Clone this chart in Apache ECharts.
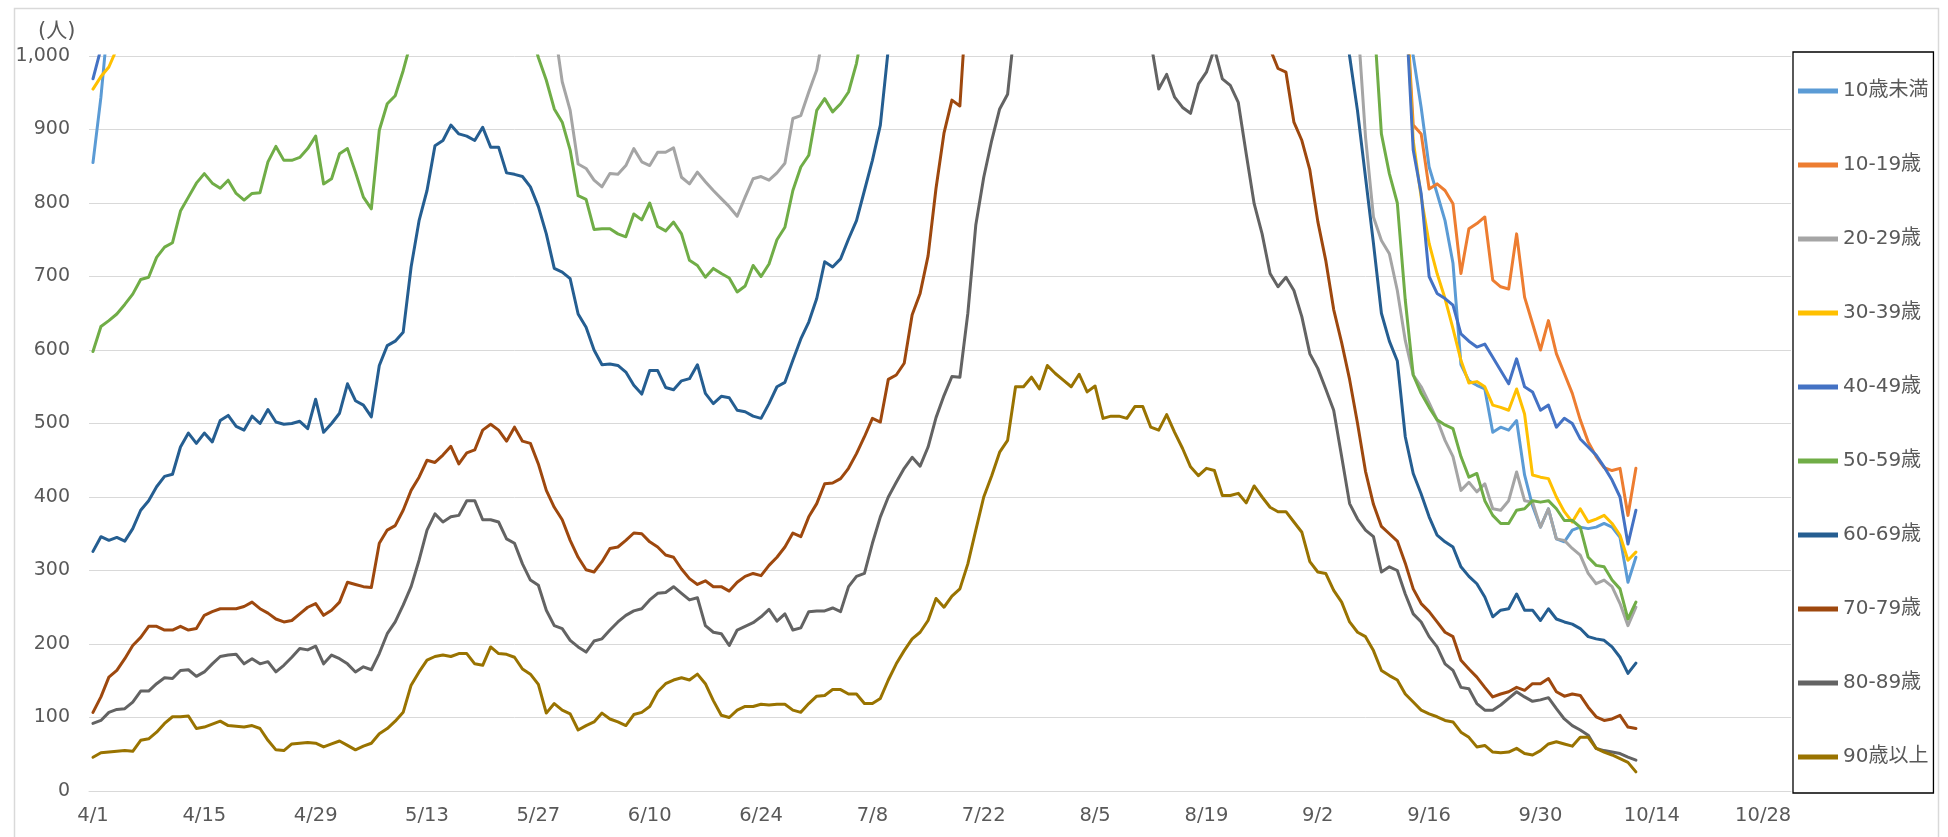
<!DOCTYPE html>
<html>
<head>
<meta charset="utf-8">
<title>年代別 陽性者数の推移</title>
<script src="https://cdn.jsdelivr.net/npm/echarts@6.0.0/dist/echarts.min.js"></script>
<style>
    html, body { margin: 0; padding: 0; background: #fff; }
    #main { width: 1948px; height: 837px; }
</style>
</head>
<body>
<div id="main"></div>
<script>
// 横軸：4/1～10/31（データは10/12まで）
var monthDays = [[4, 30], [5, 31], [6, 30], [7, 31], [8, 31], [9, 30], [10, 31]];
var dates = [];
monthDays.forEach(function (m) {
    for (var d = 1; d <= m[1]; d++) dates.push(m[0] + '/' + d);
});

// 1,000人を超えてグラフの外に出ている期間は読み取れないので null で埋める
function over(n) { return new Array(n).fill(null); }

var ageNames = ['10歳未満', '10-19歳', '20-29歳', '30-39歳', '40-49歳',
                '50-59歳', '60-69歳', '70-79歳', '80-89歳', '90歳以上'];

// 4/1 からの日別の値（人）
var under10 = [855, 944, 1060].concat(over(162), [
    1080, 1000, 930, 849, 813, 776, 718, 580, 558, 552,
    547, 488, 495, 491, 504, 430, 388, 359, 384, 343,
    339, 355, 359, 357, 359, 364, 359, 345, 284, 318]);

var age10s = over(165).concat([
    1100, 906, 894, 819, 826, 817, 799, 704, 765, 772,
    781, 695, 686, 683, 758, 672, 636, 600, 640, 595,
    568, 541, 505, 475, 455, 440, 436, 439, 375, 439]);

var age20s = over(58).concat([
    1040, 965, 926, 853, 847, 831, 822, 840, 839, 851,
    874, 856, 851, 869, 869, 875, 835, 826, 842, 829,
    817, 806, 795, 782, 808, 833, 836, 831, 841, 854,
    915, 919, 951, 981, 1040], over(66), [
    1050, 890, 781, 749, 731, 681, 613, 566, 550, 528,
    505, 477, 455, 409, 420, 407, 418, 384, 382, 395,
    434, 395, 393, 359, 384, 343, 341, 330, 321, 296,
    282, 287, 278, 255, 225, 250]);

var age30s = [955, 972, 985, 1010].concat(over(161), [
    1100, 885, 808, 745, 704, 670, 629, 586, 555, 557,
    550, 525, 522, 518, 547, 513, 430, 427, 425, 400,
    380, 366, 384, 366, 370, 375, 364, 348, 314, 325]);

var age40s = [969, 1010].concat(over(163), [
    1080, 872, 813, 700, 677, 670, 661, 622, 612, 604,
    608, 590, 572, 554, 588, 550, 543, 518, 525, 495,
    507, 500, 479, 468, 457, 441, 423, 400, 336, 382]);

var age50s = [
    598, 632, 640, 649, 662, 676, 696, 699, 726, 740,
    746, 789, 808, 827, 840, 827, 820, 831, 813, 804,
    813, 814, 856, 877, 858, 858, 862, 874, 891, 826,
    833, 867, 874, 842, 808, 792, 899, 935, 946, 980,
    1020].concat(over(14), [1035,
    998, 967, 928, 910, 872, 810, 805, 764, 765, 765,
    758, 754, 785, 777, 800, 768, 762, 774, 758, 722,
    715, 699, 711, 704, 698, 679, 687, 715, 700, 717,
    750, 767, 817, 849, 865, 926, 942, 924, 935, 951,
    990, 1050], over(63), [1060,
    894, 840, 800, 668, 566, 541, 522, 505, 498, 493,
    455, 427, 432, 395, 375, 364, 364, 382, 384, 395,
    393, 395, 384, 368, 368, 359, 318, 307, 305, 287,
    275, 234, 257]);

var age60s = [
    326, 346, 341, 345, 340, 357, 382, 395, 414, 428,
    431, 468, 487, 473, 487, 475, 504, 511, 496, 491,
    510, 500, 519, 502, 499, 500, 503, 493, 533, 488,
    500, 514, 554, 531, 525, 509, 579, 606, 612, 624,
    713, 776, 817, 878, 885, 906, 894, 891, 885, 903,
    876, 876, 841, 839, 836, 822, 795, 758, 711, 706,
    697, 649, 631, 600, 580, 581, 579, 570, 552, 540,
    572, 572, 549, 546, 558, 561, 580, 541, 527, 537,
    535, 518, 516, 510, 507, 527, 550, 556, 586, 615,
    638, 670, 720, 713, 724, 751, 776, 817, 858, 906,
    1010].concat(over(56), [1090,
    1000, 925, 835, 745, 650, 612, 585, 482, 432, 404,
    373, 348, 339, 332, 305, 292, 282, 264, 237, 246,
    248, 268, 246, 246, 232, 248, 234, 230, 227, 221,
    210, 207, 205, 196, 182, 160, 174]);

var age70s = [
    107, 128, 155, 164, 180, 198, 209, 224, 224, 219,
    219, 224, 219, 221, 239, 244, 248, 248, 248, 251,
    257, 248, 242, 234, 230, 232, 241, 250, 255, 239,
    246, 257, 284, 281, 278, 277, 337, 355, 361, 382,
    409, 427, 450, 447, 457, 469, 445, 460, 464, 491,
    499, 491, 476, 495, 476, 473, 445, 409, 386, 369,
    341, 318, 301, 298, 312, 330, 332, 341, 351, 350,
    339, 332, 321, 318, 302, 289, 281, 286, 278, 278,
    272, 284, 292, 296, 293, 307, 318, 332, 351, 346,
    373, 391, 418, 419, 425, 439, 459, 482, 507, 502,
    560, 566, 582, 648, 677, 728, 820, 895, 940, 932,
    1100].concat(over(37), [
    1010, 983, 978, 910, 885, 845, 775, 722, 655, 610,
    560, 500, 435, 390, 360, 350, 340, 310, 275, 255,
    244, 230, 216, 210, 178, 166, 155, 141, 128, 132,
    135, 141, 137, 146, 146, 153, 135, 129, 132, 130,
    114, 101, 96, 98, 103, 87, 85]);

var age80s = [
    92, 96, 107, 111, 112, 121, 136, 136, 146, 154,
    153, 164, 165, 156, 162, 173, 183, 185, 186, 173,
    180, 173, 176, 162, 171, 182, 194, 192, 197, 173,
    185, 180, 173, 162, 169, 165, 187, 214, 230, 253,
    278, 314, 355, 377, 366, 373, 375, 395, 395, 369,
    369, 366, 343, 337, 309, 287, 280, 246, 225, 221,
    205, 196, 189, 204, 207, 219, 230, 239, 245, 248,
    260, 269, 270, 278, 269, 260, 263, 225, 216, 214,
    198, 219, 224, 229, 237, 247, 231, 241, 219, 222,
    244, 245, 245, 249, 244, 278, 292, 296, 337, 373,
    400, 420, 439, 454, 442, 468, 508, 538, 564, 563,
    650, 770, 835, 885, 928, 948, 1050].concat(over(16), [
    1020, 955, 975, 944, 930, 922, 962, 978, 1010, 969,
    960, 937, 867, 799, 758, 704, 686, 699, 681, 645,
    595, 575, 547, 518, 455, 391, 370, 355, 346, 298,
    305, 300, 268, 241, 230, 210, 196, 173, 164, 141,
    139, 119, 110, 110, 117, 126, 135, 128, 122, 124,
    127, 112, 98, 89, 83, 76, 58, 55, 53, 51,
    46, 42]);

var age90s = [
    46, 52, 53, 54, 55, 54, 69, 71, 80, 92,
    101, 101, 102, 85, 87, 91, 95, 89, 88, 87,
    89, 85, 69, 56, 55, 64, 65, 66, 65, 60,
    64, 68, 62, 56, 61, 65, 78, 85, 95, 107,
    144, 162, 178, 183, 185, 183, 187, 187, 173, 171,
    196, 187, 186, 182, 166, 159, 145, 106, 119, 110,
    105, 83, 89, 94, 106, 98, 94, 89, 104, 107,
    115, 135, 146, 151, 154, 151, 159, 146, 123, 103,
    100, 110, 115, 115, 118, 117, 118, 118, 110, 107,
    119, 129, 130, 138, 138, 132, 132, 119, 119, 126,
    151, 173, 191, 207, 216, 232, 262, 250, 265, 275,
    309, 355, 400, 429, 461, 477, 550, 550, 563, 547,
    579, 568, 559, 550, 567, 543, 551, 507, 510, 510,
    507, 523, 523, 495, 491, 512, 488, 466, 441, 429,
    439, 436, 402, 402, 405, 392, 415, 400, 386, 380,
    380, 366, 352, 312, 298, 296, 273, 257, 230, 216,
    210, 191, 164, 157, 151, 132, 121, 110, 105, 101,
    96, 94, 80, 73, 60, 62, 53, 52, 53, 58,
    51, 49, 55, 64, 67, 64, 61, 73, 73, 58,
    53, 49, 44, 39, 26];

var ageData = [under10, age10s, age20s, age30s, age40s, age50s, age60s, age70s, age80s, age90s];

// Office の標準配色
var lineColors = ['#5B9BD5', '#ED7D31', '#A5A5A5', '#FFC000', '#4472C4',
                  '#70AD47', '#255E91', '#9E480E', '#636363', '#997300'];

var yTicks = [0, 100, 200, 300, 400, 500, 600, 700, 800, 900, 1000];

// 英数字は Verdana 系に近い DejaVu Sans、日本語は Noto Sans CJK JP
var font = '"DejaVu Sans", "Noto Sans CJK JP", sans-serif';
var textColor = '#595959';

var myChart = echarts.init(document.getElementById('main'), null, { renderer: 'canvas' });

var seriesList = ageNames.map(function (name, i) {
    return {
        name: name,
        type: 'line',
        data: ageData[i],
        symbol: 'none',
        connectNulls: false,
        clip: true,
        lineStyle: { color: lineColors[i], width: 3, cap: 'round', join: 'round' },
        itemStyle: { color: lineColors[i] }
    };
});

myChart.setOption({
    animation: false,
    backgroundColor: '#fff',
    textStyle: { fontFamily: font },
    grid: { left: 89, right: 157, top: 56, bottom: 46, containLabel: false },
    xAxis: {
        type: 'category',
        data: dates,
        boundaryGap: true,
        axisTick: { show: false },
        axisLine: { show: true, lineStyle: { color: '#D9D9D9', width: 1 } },
        axisLabel: { interval: 13, margin: 15, fontSize: 19.5, color: textColor, fontFamily: font },
        splitLine: { show: false }
    },
    yAxis: {
        type: 'value',
        min: yTicks[0],
        max: yTicks[yTicks.length - 1],
        interval: 100,
        axisLine: { show: false },
        axisTick: { show: false },
        axisLabel: {
            margin: 19, fontSize: 19, color: textColor, fontFamily: font,
            formatter: function (v) { return v.toLocaleString('en-US'); }
        },
        splitLine: { lineStyle: { color: '#D9D9D9', width: 1 } }
    },
    legend: {
        data: ageNames,
        orient: 'vertical',
        left: 1793,
        top: 52,
        padding: [28, 5, 25, 5],
        itemGap: 52,
        itemWidth: 40,
        itemHeight: 5,
        icon: 'rect',
        borderColor: '#000',
        borderWidth: 1.3,
        textStyle: { fontSize: 20, lineHeight: 22, color: textColor, fontFamily: font }
    },
    graphic: [
        {
            type: 'rect',
            left: 12, top: 6,
            shape: { width: 1924, height: 840 },
            style: { fill: 'none', stroke: '#D9D9D9', lineWidth: 1.5 },
            silent: true
        },
        {
            type: 'text',
            left: 38, top: 21,
            style: { text: '(人)', font: '21px ' + font, fill: textColor }
        }
    ],
    series: seriesList
});
</script>
</body>
</html>
